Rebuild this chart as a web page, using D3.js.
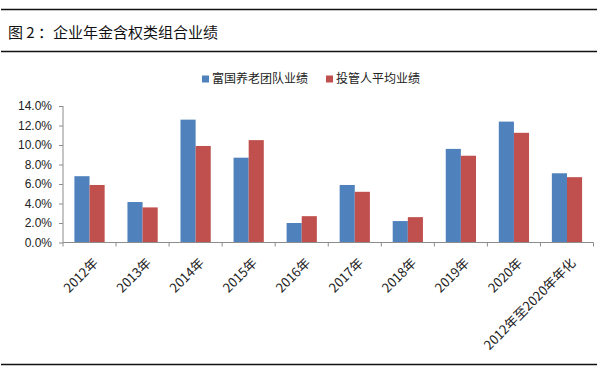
<!DOCTYPE html>
<html>
<head>
<meta charset="utf-8">
<script src="https://cdn.jsdelivr.net/npm/d3@7"></script>
<style>
  body { margin: 0; background: #fff; }
  svg { display: block; font-family: "Noto Sans CJK SC", "Microsoft YaHei", sans-serif; }
  .axis path, .axis line { stroke: #8c8c8c; }
  .axis text { fill: #222; font-size: 12px; }
  .axis text.lbl { font-size: 13px; }
</style>
</head>
<body>
<svg width="600" height="374"></svg>
<script>
var categories = ["2012年", "2013年", "2014年", "2015年", "2016年", "2017年", "2018年", "2019年", "2020年", "2012年至2020年年化"];
var seriesNames = ["富国养老团队业绩", "投管人平均业绩"];
var teamPerf = [6.8, 4.15, 12.6, 8.7, 2.0, 5.9, 2.2, 9.6, 12.4, 7.1];
var avgPerf = [5.9, 3.6, 9.9, 10.5, 2.7, 5.2, 2.6, 8.9, 11.25, 6.7];
var yTicks = [0, 2, 4, 6, 8, 10, 12, 14];
var colors = ["#4f81bd", "#c0504d"];

var svg = d3.select("svg"),
    margin = {top: 106, right: 6, bottom: 132, left: 63},
    width = 593.5 - margin.left,
    height = 242.5 - margin.top;

// frame lines and title
[9.5, 51.5, 364.5].forEach(function(y) {
  svg.append("line")
      .attr("x1", 1).attr("x2", 597)
      .attr("y1", y).attr("y2", y)
      .attr("stroke", "#111").attr("stroke-width", 1.3);
});
svg.append("text")
    .attr("x", 8).attr("y", 38)
    .attr("font-size", "15px")
    .attr("fill", "#111")
    .text("图 2 ：企业年金含权类组合业绩");

var x = d3.scaleBand().domain(categories).range([0, width]).paddingInner(0.43).paddingOuter(0.215),
    x1 = d3.scaleBand().domain([0, 1]).range([0, x.bandwidth()]),
    y = d3.scaleLinear().domain([0, 14]).range([height, 0]);

var g = svg.append("g")
    .attr("transform", "translate(" + margin.left + "," + margin.top + ")");

var data = categories.map(function(c, i) { return {cat: c, vals: [teamPerf[i], avgPerf[i]]}; });

g.selectAll(".grp")
  .data(data)
  .enter().append("g")
    .attr("class", "grp")
    .attr("transform", function(d) { return "translate(" + x(d.cat) + ",0)"; })
  .selectAll("rect")
  .data(function(d) { return d.vals; })
  .enter().append("rect")
    .attr("x", function(d, i) { return x1(i); })
    .attr("y", function(d) { return y(d); })
    .attr("width", x1.bandwidth())
    .attr("height", function(d) { return height - y(d); })
    .attr("fill", function(d, i) { return colors[i]; });

// y axis
g.append("g")
    .attr("class", "axis")
    .call(d3.axisLeft(y).tickValues(yTicks).tickSize(4).tickPadding(7)
      .tickFormat(function(d) { return d.toFixed(1) + "%"; }))
    .call(function(a) { a.select(".domain").attr("d", "M0," + height + "V0"); });

// x axis with ticks at category boundaries
var step = width / categories.length;
var xa = g.append("g")
    .attr("class", "axis")
    .attr("transform", "translate(0," + height + ")");
xa.append("line").attr("x1", 0).attr("x2", width).attr("stroke", "#8c8c8c");
xa.selectAll(".tk")
  .data(d3.range(categories.length + 1))
  .enter().append("line")
    .attr("class", "tk")
    .attr("x1", function(i) { return i * step; })
    .attr("x2", function(i) { return i * step; })
    .attr("y1", 0).attr("y2", 4)
    .attr("stroke", "#8c8c8c");
xa.selectAll(".lbl")
  .data(categories)
  .enter().append("text")
    .attr("class", "lbl")
    .attr("text-anchor", "end")
    .attr("transform", function(d) {
      return "translate(" + (x(d) + x.bandwidth() / 2 + 2) + ",14) rotate(-45)";
    })
    .attr("dy", "0.8em")
    .text(function(d) { return d; });

// legend
var legX = [202, 326];
var leg = svg.selectAll(".leg")
  .data(seriesNames)
  .enter().append("g")
    .attr("class", "leg")
    .attr("transform", function(d, i) { return "translate(" + legX[i] + ",79)"; });
leg.append("rect")
    .attr("x", 0).attr("y", -3.5)
    .attr("width", 7).attr("height", 7)
    .attr("fill", function(d, i) { return colors[i]; });
leg.append("text")
    .attr("x", 10).attr("y", 0)
    .attr("dy", "0.35em")
    .attr("font-size", "12px")
    .attr("fill", "#222")
    .text(function(d) { return d; });
</script>
</body>
</html>
